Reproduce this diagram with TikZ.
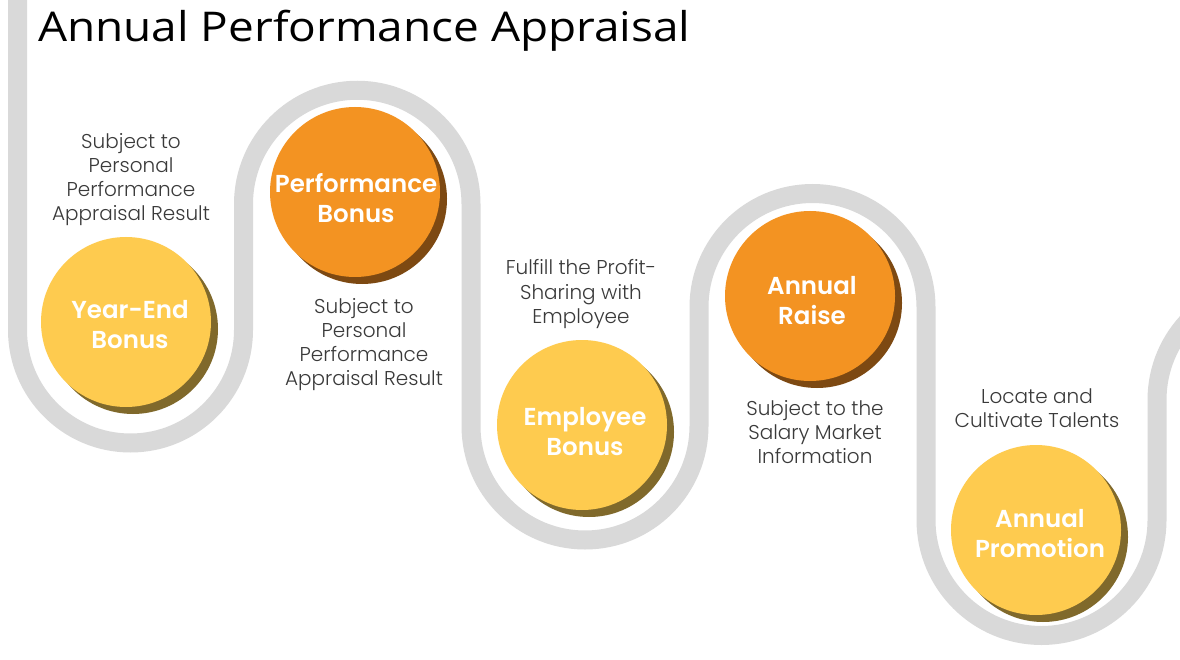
\documentclass[tikz,border=0pt]{standalone}
\usepackage{fontspec}
\setmainfont{Poppins}
\newfontfamily\semifont{Poppins SemiBold}
\newfontfamily\lightfont{Poppins Light}
\newfontfamily\titlefont[FakeStretch=1.12]{Open Sans}
\definecolor{bandgray}{HTML}{D9D9D9}
\definecolor{ylw}{HTML}{FECB4F}
\definecolor{ylwshadow}{HTML}{80692B}
\definecolor{org}{HTML}{F39322}
\definecolor{orgshadow}{HTML}{7D4912}
\definecolor{txtgray}{HTML}{3A3A3A}
\begin{document}
\begin{tikzpicture}[x=1pt,y=-1pt,
  band/.style={draw=bandgray,line width=19pt},
  ybub/.style={circle,fill=ylw,minimum size=170pt,inner sep=0pt},
  obub/.style={circle,fill=org,minimum size=170pt,inner sep=0pt},
  yshad/.style={circle,fill=ylwshadow,minimum size=170pt,inner sep=0pt},
  oshad/.style={circle,fill=orgshadow,minimum size=170pt,inner sep=0pt},
  bublabel/.style={text=white,font=\semifont\fontsize{24.5}{30}\selectfont,align=center,anchor=base},
  note/.style={text=txtgray,font=\lightfont\fontsize{20}{24}\selectfont,align=center,anchor=base},
]
\useasboundingbox[fill=white] (0,0) rectangle (1180,660);
% serpentine band
\draw[band] (17.5,-20) -- (17.5,330)
  arc[start angle=180,end angle=360,radius=113pt] -- (243.5,204)
  arc[start angle=180,end angle=0,radius=113.75pt] -- (471,426)
  arc[start angle=180,end angle=360,radius=114pt] -- (699,307)
  arc[start angle=180,end angle=0,radius=113.5pt] -- (926,520)
  arc[start angle=180,end angle=360,radius=115.5pt] -- (1157,400)
  arc[start angle=180,end angle=0,radius=115pt] -- (1387,700);
% title
\node[anchor=base west,text=black,font=\titlefont\fontsize{41}{48}\selectfont,inner sep=0pt] (title) at (38,42) {Annual Performance Appraisal};
% bubbles
\node[yshad] (s1) at (133,329) {};
\node[ybub] (b1) at (126,322) {};
\node[oshad] (s2) at (362,199) {};
\node[obub] (b2) at (355,192) {};
\node[yshad] (s3) at (589,432) {};
\node[ybub] (b3) at (582,425) {};
\node[oshad] (s4) at (817,303) {};
\node[obub] (b4) at (810,296) {};
\node[yshad] (s5) at (1043,537) {};
\node[ybub] (b5) at (1036,530) {};
% bubble labels (base = last line)
\node[bublabel] (l1) at (130,348) {Year-End\\Bonus};
\node[bublabel] (l2) at (356,223) {Performance\\Bonus};
\node[bublabel] (l3) at (585,455) {Employee\\Bonus};
\node[bublabel] (l4) at (812,324) {Annual\\Raise};
\node[bublabel] (l5) at (1040,557) {Annual\\Promotion};
% notes (base = last line)
\node[note] (n1) at (131,221) {Subject to\\Personal\\Performance\\Appraisal Result};
\node[note] (n2) at (364,385) {Subject to\\Personal\\Performance\\Appraisal Result};
\node[note] (n3) at (581,323) {Fulfill the Profit-\\Sharing with\\Employee};
\node[note] (n4) at (815,463) {Subject to the\\Salary Market\\Information};
\node[note] (n5) at (1037,427) {Locate and\\Cultivate Talents};
\end{tikzpicture}
\end{document}
